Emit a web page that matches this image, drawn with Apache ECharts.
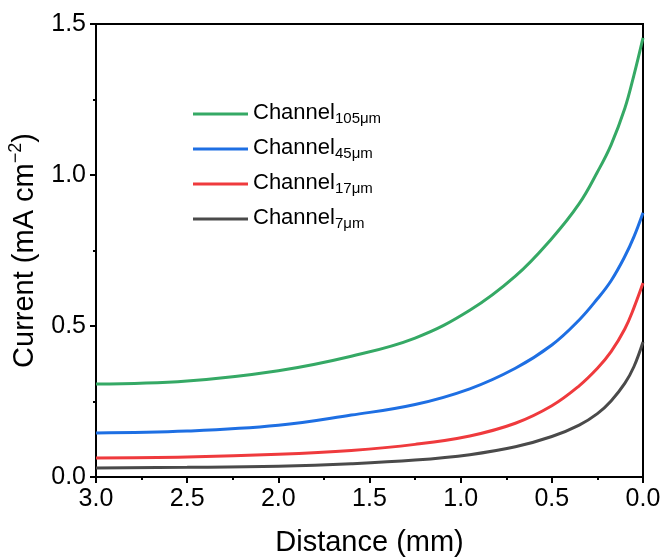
<!DOCTYPE html>
<html>
<head>
<meta charset="utf-8">
<script src="https://cdn.jsdelivr.net/npm/echarts@6/dist/echarts.min.js"></script>
<style>
  html, body { margin: 0; padding: 0; background: #fff; }
  #chart { width: 668px; height: 560px; }
</style>
</head>
<body>
<div id="chart"></div>
<script>
// Distance from the channel outlet (mm)
const distance = [0.0, 0.05, 0.1, 0.175, 0.25, 0.35, 0.5, 0.7, 0.95, 1.25, 1.6, 2.0, 2.5, 3.0];

// Current density (mA cm^-2) for each channel width
const channel105 = [1.454, 1.330, 1.220, 1.100, 1.010, 0.905, 0.790, 0.665, 0.552, 0.460, 0.400, 0.352, 0.318, 0.308];
const channel45  = [0.875, 0.795, 0.730, 0.650, 0.590, 0.520, 0.437, 0.360, 0.292, 0.240, 0.205, 0.171, 0.152, 0.146];
const channel17  = [0.642, 0.560, 0.490, 0.415, 0.360, 0.302, 0.236, 0.178, 0.136, 0.108, 0.088, 0.075, 0.066, 0.063];
const channel7   = [0.447, 0.365, 0.310, 0.252, 0.210, 0.172, 0.134, 0.100, 0.074, 0.056, 0.044, 0.036, 0.032, 0.030];

const seriesNames = ['Channel105', 'Channel45', 'Channel17', 'Channel7'];
const seriesSubs  = ['105μm', '45μm', '17μm', '7μm'];
const seriesData  = [channel105, channel45, channel17, channel7];
const seriesColors = ['#35a965', '#1e6fe3', '#ef3a3d', '#4a4a4a'];

const FONT = "'Liberation Sans', Arial, sans-serif";

const chart = echarts.init(document.getElementById('chart'), null, { renderer: 'canvas' });

const series = seriesNames.map((name, i) => ({
  name: name,
  type: 'line',
  data: distance.map((d, j) => [d, seriesData[i][j]]),
  smooth: 0.4,
  symbol: 'none',
  lineStyle: { width: 3, color: seriesColors[i] },
  itemStyle: { color: seriesColors[i] },
  z: 3
}));

chart.setOption({
  animation: false,
  backgroundColor: '#fff',
  textStyle: { fontFamily: FONT },
  grid: {
    left: 96, right: 25, top: 24, bottom: 83,
    outerBoundsMode: 'none',
    containLabel: false,
    show: true, borderColor: '#000', borderWidth: 2, backgroundColor: 'transparent'
  },
  legend: {
    orient: 'vertical',
    left: 193,
    top: 101,
    padding: 0,
    itemWidth: 55,
    itemHeight: 3,
    itemGap: 10,
    icon: 'rect',
    data: seriesNames,
    formatter: function (name) {
      const i = seriesNames.indexOf(name);
      return '{a|Channel}{b|' + seriesSubs[i] + '}';
    },
    textStyle: {
      color: '#000',
      fontFamily: FONT,
      rich: {
        a: { fontSize: 22, lineHeight: 24, verticalAlign: 'top', fontFamily: FONT, color: '#000' },
        b: { fontSize: 15, lineHeight: 14, padding: [10, 0, 0, 0], verticalAlign: 'bottom', fontFamily: FONT, color: '#000' }
      }
    }
  },
  xAxis: {
    type: 'value',
    min: 0, max: 3, interval: 0.5,
    inverse: true,
    name: 'Distance (mm)',
    nameLocation: 'middle',
    nameGap: 51,
    nameTextStyle: { fontSize: 29, color: '#000', fontFamily: FONT },
    axisLine: { show: true, onZero: false, lineStyle: { color: '#000', width: 2 } },
    axisTick: { show: true, length: 6, lineStyle: { color: '#000', width: 2 } },
    minorTick: { show: true, splitNumber: 2, length: 3, lineStyle: { color: '#000', width: 2 } },
    splitLine: { show: false },
    axisLabel: {
      fontSize: 25, color: '#000', margin: 10, fontFamily: FONT,
      formatter: v => v.toFixed(1)
    }
  },
  yAxis: {
    type: 'value',
    min: 0, max: 1.5, interval: 0.5,
    position: 'left',
    name: '{a|Current (mA cm}{b|−2}{a|)}',
    nameLocation: 'middle',
    nameGap: 57,
    nameRotate: 90,
    nameTextStyle: {
      color: '#000', fontFamily: FONT,
      rich: {
        a: { fontSize: 29, lineHeight: 32, verticalAlign: 'bottom', fontFamily: FONT, color: '#000' },
        b: { fontSize: 18, lineHeight: 18, verticalAlign: 'top', fontFamily: FONT, color: '#000' }
      }
    },
    axisLine: { show: true, onZero: false, lineStyle: { color: '#000', width: 2 } },
    axisTick: { show: true, length: 6, lineStyle: { color: '#000', width: 2 } },
    minorTick: { show: true, splitNumber: 2, length: 3, lineStyle: { color: '#000', width: 2 } },
    splitLine: { show: false },
    axisLabel: {
      fontSize: 25, color: '#000', margin: 10, fontFamily: FONT,
      formatter: v => v.toFixed(1)
    }
  },
  series: series
});
</script>
</body>
</html>
